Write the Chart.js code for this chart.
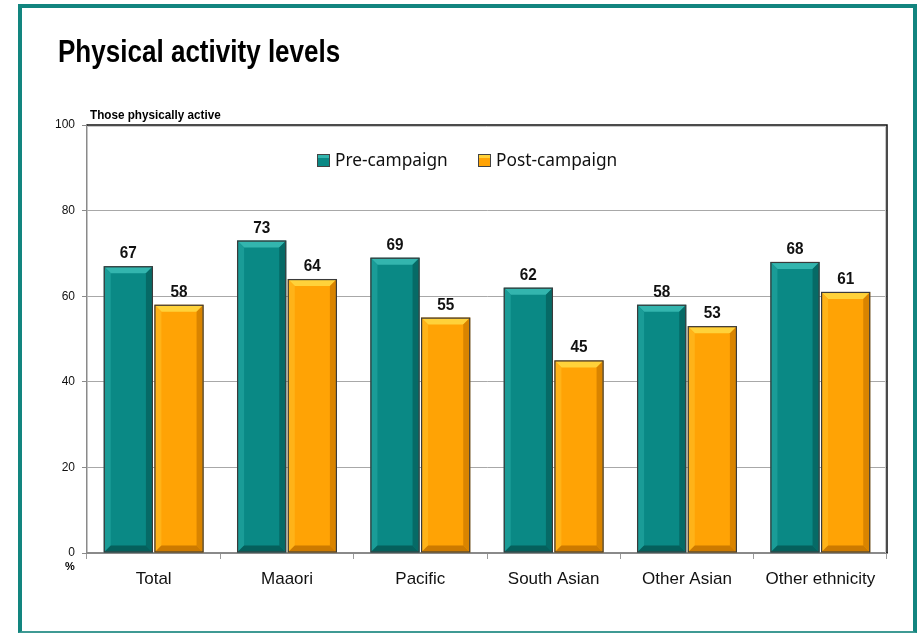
<!DOCTYPE html>
<html>
<head>
<meta charset="utf-8">
<title>Physical activity levels</title>
<script src="https://cdn.jsdelivr.net/npm/chart.js@4/dist/chart.umd.min.js"></script>
<style>
  html, body { margin: 0; padding: 0; background: #ffffff; }
  #wrap { position: relative; width: 921px; height: 634px; overflow: hidden; }
  #frame {
    position: absolute; left: 18px; top: 4px; width: 899px; height: 629px;
    box-sizing: border-box;
    border-left: 4px solid #12857f; border-top: 4px solid #12857f;
    border-right: 4px solid #12857f; border-bottom: 2px solid #3f9a94;
  }
  canvas { position: absolute; left: 0; top: 0; }
</style>
</head>
<body>
<div id="wrap">
  <div id="frame"></div>
  <canvas id="chart" width="921" height="634"></canvas>
</div>
<script>
// Share of people physically active, by ethnic group, before and after the campaign
const categories = ['Total', 'Maaori', 'Pacific', 'South Asian', 'Other Asian', 'Other ethnicity'];
const preCampaign = [67, 73, 69, 62, 58, 68];
const postCampaign = [58, 64, 55, 45, 53, 61];
const yTicks = [0, 20, 40, 60, 80, 100];
const seriesNames = ['Pre-campaign', 'Post-campaign'];

const chartTitle = 'Physical activity levels';
const axisTitle = 'Those physically active';
const unitLabel = '%';

// face, top highlight, left highlight, right shade, bottom shade
const palettes = [
  { face: '#0a8985', top: '#33b5ae', left: '#1a9c97', right: '#066a66', bottom: '#05605c' },
  { face: '#ffa305', top: '#ffd23a', left: '#ffb318', right: '#d98400', bottom: '#cc7a00' }
];

// Bevelled bar faces, legend, value labels and headings
const decorations = {
  id: 'decorations',
  afterDatasetsDraw(chart) {
    const ctx = chart.ctx;
    ctx.save();
    // bevel on every bar
    chart.data.datasets.forEach((ds, di) => {
      const pal = palettes[di];
      chart.getDatasetMeta(di).data.forEach((bar) => {
        const p = bar.getProps(['x', 'y', 'base', 'width'], true);
        const l = p.x - p.width / 2 + 1, r = p.x + p.width / 2 - 1;
        const t = p.y + 1, b = p.base - 1;
        const e = Math.min(6, (b - t) / 2);
        const quad = (pts, col) => {
          ctx.beginPath();
          ctx.moveTo(pts[0][0], pts[0][1]);
          for (let i = 1; i < pts.length; i++) ctx.lineTo(pts[i][0], pts[i][1]);
          ctx.closePath();
          ctx.fillStyle = col;
          ctx.fill();
        };
        quad([[l, t], [r, t], [r - e, t + e], [l + e, t + e]], pal.top);
        quad([[l, t], [l + e, t + e], [l + e, b - e], [l, b]], pal.left);
        quad([[r, t], [r, b], [r - e, b - e], [r - e, t + e]], pal.right);
        quad([[l, b], [l + e, b - e], [r - e, b - e], [r, b]], pal.bottom);
        ctx.strokeStyle = '#3a3a3a';
        ctx.lineWidth = 1.2;
        ctx.strokeRect(p.x - p.width / 2 + 0.5, p.y + 0.5, p.width - 1, p.base - p.y - 1);
      });
    });

    // value labels above bars
    ctx.fillStyle = '#111111';
    ctx.textAlign = 'center';
    ctx.textBaseline = 'alphabetic';
    ctx.font = 'bold 17px "Liberation Sans", Arial, sans-serif';
    chart.data.datasets.forEach((ds, di) => {
      chart.getDatasetMeta(di).data.forEach((bar, i) => {
        ctx.save();
        ctx.translate(bar.x, bar.y - 8);
        ctx.scale(0.9, 1);
        ctx.fillText(String(ds.data[i]), 0, 0);
        ctx.restore();
      });
    });
    ctx.restore();
  },
  afterDraw(chart) {
    const ctx = chart.ctx;
    const area = chart.chartArea;
    ctx.save();

    // top and right edges of the plot frame
    ctx.strokeStyle = '#c8c8c8';
    ctx.lineWidth = 1;
    ctx.beginPath();
    ctx.moveTo(area.left, area.top + 1.5);
    ctx.lineTo(area.right - 1.5, area.top + 1.5);
    ctx.lineTo(area.right - 1.5, area.bottom);
    ctx.stroke();
    ctx.strokeStyle = '#111111';
    ctx.lineWidth = 1.5;
    ctx.beginPath();
    ctx.moveTo(area.left, area.top);
    ctx.lineTo(area.right, area.top);
    ctx.lineTo(area.right, area.bottom);
    ctx.stroke();

    // legend
    const legendY = 160;
    const starts = [317, 478];
    ctx.font = '18px "Noto Sans", "Open Sans", sans-serif';
    ctx.textBaseline = 'middle';
    ctx.textAlign = 'left';
    chart.data.datasets.forEach((ds, di) => {
      const pal = palettes[di];
      const x = starts[di];
      ctx.fillStyle = pal.face;
      ctx.fillRect(x, legendY - 6, 13, 13);
      ctx.fillStyle = pal.top;
      ctx.fillRect(x + 1, legendY - 5, 11, 3);
      ctx.strokeStyle = '#444444';
      ctx.lineWidth = 1;
      ctx.strokeRect(x + 0.5, legendY - 5.5, 12, 12);
      ctx.fillStyle = '#111111';
      ctx.save();
      ctx.translate(x + 18, legendY + 1);
      ctx.scale(0.96, 1);
      ctx.fillText(ds.label, 0, 0);
      ctx.restore();
    });

    // main heading
    ctx.fillStyle = '#000000';
    ctx.textBaseline = 'alphabetic';
    ctx.save();
    ctx.translate(58, 62);
    ctx.scale(0.84, 1);
    ctx.font = 'bold 31px "Liberation Sans", Arial, sans-serif';
    ctx.fillText(chartTitle, 0, 0);
    ctx.restore();

    // axis heading
    ctx.save();
    ctx.translate(90, 119);
    ctx.scale(0.9, 1);
    ctx.font = 'bold 13px "Liberation Sans", Arial, sans-serif';
    ctx.fillText(axisTitle, 0, 0);
    ctx.restore();

    // unit under the y axis
    ctx.font = 'bold 11px "Liberation Sans", Arial, sans-serif';
    ctx.textAlign = 'center';
    ctx.fillText(unitLabel, 70, 570);
    ctx.restore();
  }
};

new Chart(document.getElementById('chart'), {
  type: 'bar',
  data: {
    labels: categories,
    datasets: [
      { label: seriesNames[0], data: preCampaign, backgroundColor: palettes[0].face, borderWidth: 0 },
      { label: seriesNames[1], data: postCampaign, backgroundColor: palettes[1].face, borderWidth: 0 }
    ]
  },
  options: {
    responsive: false,
    animation: false,
    devicePixelRatio: 1,
    layout: { padding: { left: 0, top: 125, right: 34, bottom: 0 } },
    datasets: { bar: { categoryPercentage: 0.76, barPercentage: 0.97 } },
    plugins: {
      legend: { display: false },
      title: { display: false },
      tooltip: { enabled: false }
    },
    scales: {
      x: {
        offset: true,
        grid: {
          offset: true,
          drawOnChartArea: false,
          drawTicks: true,
          tickLength: 6,
          color: '#9a9a9a'
        },
        border: { display: true, color: '#8a8a8a', width: 2 },
        ticks: {
          color: '#111111',
          padding: 10,
          font: { family: '"Liberation Sans", Arial, sans-serif', size: 17 }
        },
        afterFit(scale) { scale.height = 81; }
      },
      y: {
        min: 0,
        max: 100,
        afterBuildTicks(scale) { scale.ticks = yTicks.map(v => ({ value: v })); },
        grid: {
          color: (c) => (c.tick && (c.tick.value === 0 || c.tick.value === 100)) ? 'rgba(0,0,0,0)' : '#a8a8a8',
          tickColor: '#8a8a8a',
          drawTicks: true,
          tickLength: 5,
          lineWidth: 1
        },
        border: { display: true, color: '#8a8a8a', width: 1.5 },
        ticks: {
          color: '#111111',
          padding: 7,
          font: { family: '"Liberation Sans", Arial, sans-serif', size: 12 }
        },
        afterFit(scale) { scale.width = 87; }
      }
    }
  },
  plugins: [decorations]
});
</script>
</body>
</html>
